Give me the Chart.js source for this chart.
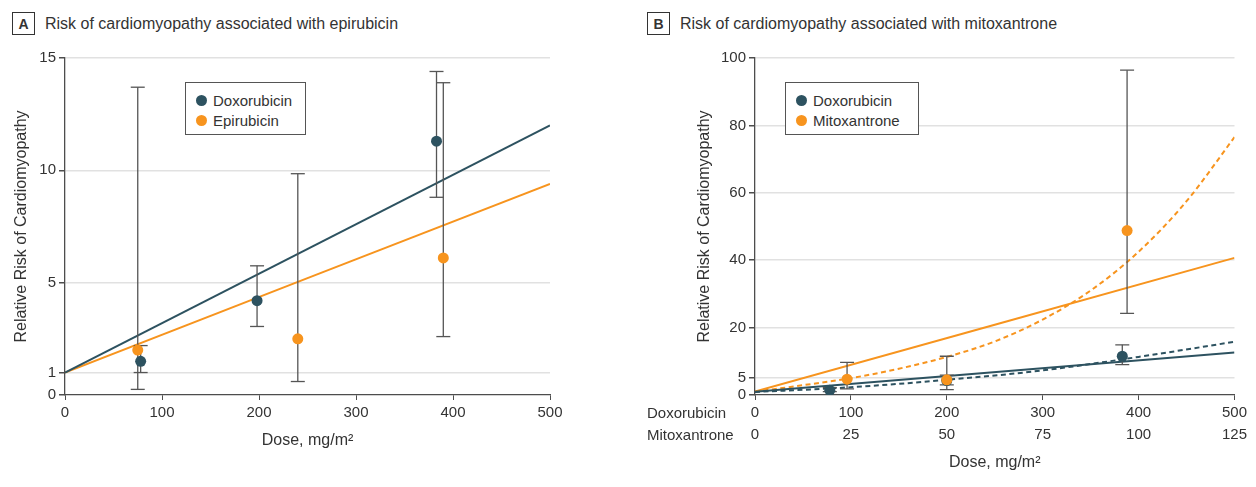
<!DOCTYPE html>
<html><head><meta charset="utf-8">
<script src="https://cdn.jsdelivr.net/npm/chart.js@4"></script>
<style>
body{margin:0;background:#fff;font-family:"Liberation Sans",Arial,sans-serif;color:#333;}
#wrap{position:relative;width:1256px;height:487px;overflow:hidden;background:#fff;}
canvas{position:absolute;top:0;}
.hdr{position:absolute;top:12px;height:23px;display:flex;align-items:center;font-size:16px;color:#333;white-space:nowrap;}
.box{width:21px;height:21px;border:1px solid #333;display:flex;align-items:center;justify-content:center;font-weight:bold;font-size:14px;margin-right:10px;}
.legend{position:absolute;border:1px solid #555;background:#fff;font-size:15px;color:#333;box-sizing:border-box;}
.li{position:absolute;left:10px;height:20px;display:flex;align-items:center;white-space:nowrap;}
.dot{width:11px;height:11px;border-radius:50%;margin-right:6px;}
.rowlab{position:absolute;left:647px;font-size:15px;color:#333;height:18px;line-height:18px;}
</style></head>
<body><div id="wrap">
<div class="hdr" style="left:12px"><div class="box">A</div>Risk of cardiomyopathy associated with epirubicin</div>
<div class="hdr" style="left:647px"><div class="box">B</div>Risk of cardiomyopathy associated with mitoxantrone</div>
<canvas id="cA" width="620" height="487" style="left:0;width:620px;height:487px"></canvas>
<canvas id="cB" width="636" height="487" style="left:620px;width:636px;height:487px"></canvas>
<div class="legend" style="left:185px;top:82px;width:121px;height:53px">
 <div class="li" style="top:7px"><span class="dot" style="background:#2d5260"></span>Doxorubicin</div>
 <div class="li" style="top:27px"><span class="dot" style="background:#f7941e"></span>Epirubicin</div>
</div>
<div class="legend" style="left:785px;top:82px;width:134px;height:53px">
 <div class="li" style="top:7px"><span class="dot" style="background:#2d5260"></span>Doxorubicin</div>
 <div class="li" style="top:27px"><span class="dot" style="background:#f7941e"></span>Mitoxantrone</div>
</div>
<div class="rowlab" style="top:404px">Doxorubicin</div>
<div class="rowlab" style="top:426px">Mitoxantrone</div>
</div>
<script>
// ---------- Panel A data ----------
const aDoxX   = [78, 198, 383];
const aDoxY   = [1.5, 4.2, 11.3];
const aDoxLo  = [1.0, 3.05, 8.8];
const aDoxHi  = [2.2, 5.75, 14.4];
const aEpiX   = [75, 240, 390];
const aEpiY   = [2.0, 2.5, 6.1];
const aEpiLo  = [0.25, 0.6, 2.6];
const aEpiHi  = [13.7, 9.85, 13.9];
const aFitX   = [0, 500];
const aDoxFit = [1, 12.0];
const aEpiFit = [1, 9.4];
const aXTicks = [0, 100, 200, 300, 400, 500];
const aYTicks = [0, 1, 5, 10, 15];

// ---------- Panel B data ----------
const bDoxX   = [78, 200, 383];
const bDoxY   = [1.4, 4.3, 11.5];
const bDoxLo  = [1.0, 3.0, 9.0];
const bDoxHi  = [2.2, 5.9, 14.9];
const bMitX   = [24, 50, 97];          // mitoxantrone dose scale
const bMitY   = [4.7, 4.5, 48.8];
const bMitLo  = [1.8, 1.6, 24.2];
const bMitHi  = [9.7, 11.5, 96.4];
const bDoxLinX = [0, 500];
const bDoxLinY = [1, 12.6];
const bDoxCurX = [0, 100, 200, 300, 400, 500];
const bDoxCurY = [0.9, 2.3, 4.5, 7.3, 11.3, 15.8];
const bMitLinX = [0, 125];
const bMitLinY = [1, 40.7];
const bMitCurX = [0, 12.5, 25, 37.5, 50, 62.5, 75, 87.5, 100, 112.5, 125];
const bMitCurY = [1.0, 2.9, 5.0, 7.8, 11.3, 15.9, 22.4, 31.0, 42.5, 57.5, 76.5];
const bXTicksDox = [0, 100, 200, 300, 400, 500];
const bXTicksMit = [0, 25, 50, 75, 100, 125];
const bYTicks = [0, 5, 20, 40, 60, 80, 100];

// ---------- styling ----------
const DARK = '#2d5260', ORANGE = '#f7941e', ERR = '#555', AX = '#4d4d4d', GRID = '#e1e1e1';
Chart.defaults.font.family = '"Liberation Sans", Arial, sans-serif';
Chart.defaults.color = '#333';

const pts = (xs, ys) => xs.map((x, i) => ({x, y: ys[i]}));
function errBars(xs, lo, hi, axisId) {
  return xs.map((x, i) => ({
    data: [{x, y: lo[i]}, {x, y: hi[i]}],
    showLine: true, borderColor: ERR, borderWidth: 1.3,
    pointStyle: 'line', pointRadius: 7, pointBorderColor: ERR, pointBorderWidth: 1.3,
    pointHoverRadius: 7, order: 1, xAxisID: axisId || 'x'
  }));
}
function scatterSet(xs, ys, color, axisId, ord) {
  return {data: pts(xs, ys), backgroundColor: color, borderColor: color, pointRadius: 5.5,
    pointBorderWidth: 0, showLine: false, order: ord || 0, xAxisID: axisId || 'x'};
}
function lineSet(xs, ys, color, dash, axisId) {
  return {data: pts(xs, ys), borderColor: color, borderWidth: 2, pointRadius: 0, showLine: true,
    borderDash: dash || [], cubicInterpolationMode: 'monotone', order: 2, xAxisID: axisId || 'x'};
}
const setTicks = arr => (s => { s.ticks = arr.map(v => ({value: v})); });
const yGrid = {color: c => (c.tick && c.tick.value === 0) ? 'rgba(0,0,0,0)' : GRID, lineWidth: 1.5,
  tickColor: AX, tickLength: 6, drawTicks: true};
const tickFont = {size: 15};
const titleFont = {size: 16};

new Chart(document.getElementById('cA'), {
  type: 'scatter',
  data: {datasets: [
    scatterSet(aDoxX, aDoxY, DARK),
    scatterSet(aEpiX, aEpiY, ORANGE),
    ...errBars(aDoxX, aDoxLo, aDoxHi),
    ...errBars(aEpiX, aEpiLo, aEpiHi),
    lineSet(aFitX, aDoxFit, DARK),
    lineSet(aFitX, aEpiFit, ORANGE)
  ]},
  options: {
    responsive: false, animation: false, devicePixelRatio: 1,
    layout: {padding: {left: 0, top: 58, right: 70, bottom: 37}},
    plugins: {legend: {display: false}, tooltip: {enabled: false}},
    scales: {
      x: {type: 'linear', min: 0, max: 500, afterBuildTicks: setTicks(aXTicks),
        afterFit: s => { s.height = 55; },
        grid: {drawOnChartArea: false, tickColor: AX, tickLength: 5},
        border: {color: AX, width: 1.3},
        ticks: {font: tickFont, padding: 4, maxRotation: 0},
        title: {display: true, text: 'Dose, mg/m²', font: titleFont, padding: {top: 0, bottom: 0}}},
      y: {type: 'linear', min: 0, max: 15, afterBuildTicks: setTicks(aYTicks),
        afterFit: s => { s.width = 65; },
        grid: yGrid, border: {color: AX, width: 1.3},
        ticks: {font: tickFont, padding: 3},
        title: {display: true, text: 'Relative Risk of Cardiomyopathy', font: titleFont, padding: {top: 12.4, bottom: 0}}}
    }
  }
});

new Chart(document.getElementById('cB'), {
  type: 'scatter',
  data: {datasets: [
    scatterSet(bMitX, bMitY, ORANGE, 'x2', -1),
    scatterSet(bDoxX, bDoxY, DARK),
    ...errBars(bDoxX, bDoxLo, bDoxHi),
    ...errBars(bMitX, bMitLo, bMitHi, 'x2'),
    lineSet(bDoxLinX, bDoxLinY, DARK),
    lineSet(bDoxCurX, bDoxCurY, DARK, [5, 3.5]),
    lineSet(bMitLinX, bMitLinY, ORANGE, [], 'x2'),
    lineSet(bMitCurX, bMitCurY, ORANGE, [5, 3.5], 'x2')
  ]},
  options: {
    responsive: false, animation: false, devicePixelRatio: 1,
    layout: {padding: {left: 65, top: 58, right: 15, bottom: 15}},
    plugins: {legend: {display: false}, tooltip: {enabled: false}},
    scales: {
      x: {type: 'linear', position: 'bottom', weight: 0, min: 0, max: 500, afterBuildTicks: setTicks(bXTicksDox),
        afterFit: s => { s.height = 22; },
        grid: {drawOnChartArea: false, tickColor: AX, tickLength: 5},
        border: {color: AX, width: 1.3},
        ticks: {font: tickFont, padding: 4, maxRotation: 0}},
      x2: {type: 'linear', position: 'bottom', weight: 1, min: 0, max: 125, afterBuildTicks: setTicks(bXTicksMit),
        afterFit: s => { s.height = 55; },
        grid: {drawOnChartArea: false, drawTicks: false},
        border: {display: false},
        ticks: {font: tickFont, padding: 9, maxRotation: 0},
        title: {display: true, text: 'Dose, mg/m²', font: titleFont, padding: {top: 0, bottom: 0}}},
      y: {type: 'linear', min: 0, max: 100, afterBuildTicks: setTicks(bYTicks),
        afterFit: s => { s.width = 70; },
        grid: yGrid, border: {color: AX, width: 1.3},
        ticks: {font: tickFont, padding: 3},
        title: {display: true, text: 'Relative Risk of Cardiomyopathy', font: titleFont, padding: {top: 10.4, bottom: 0}}}
    }
  }
});
</script>
</body></html>
